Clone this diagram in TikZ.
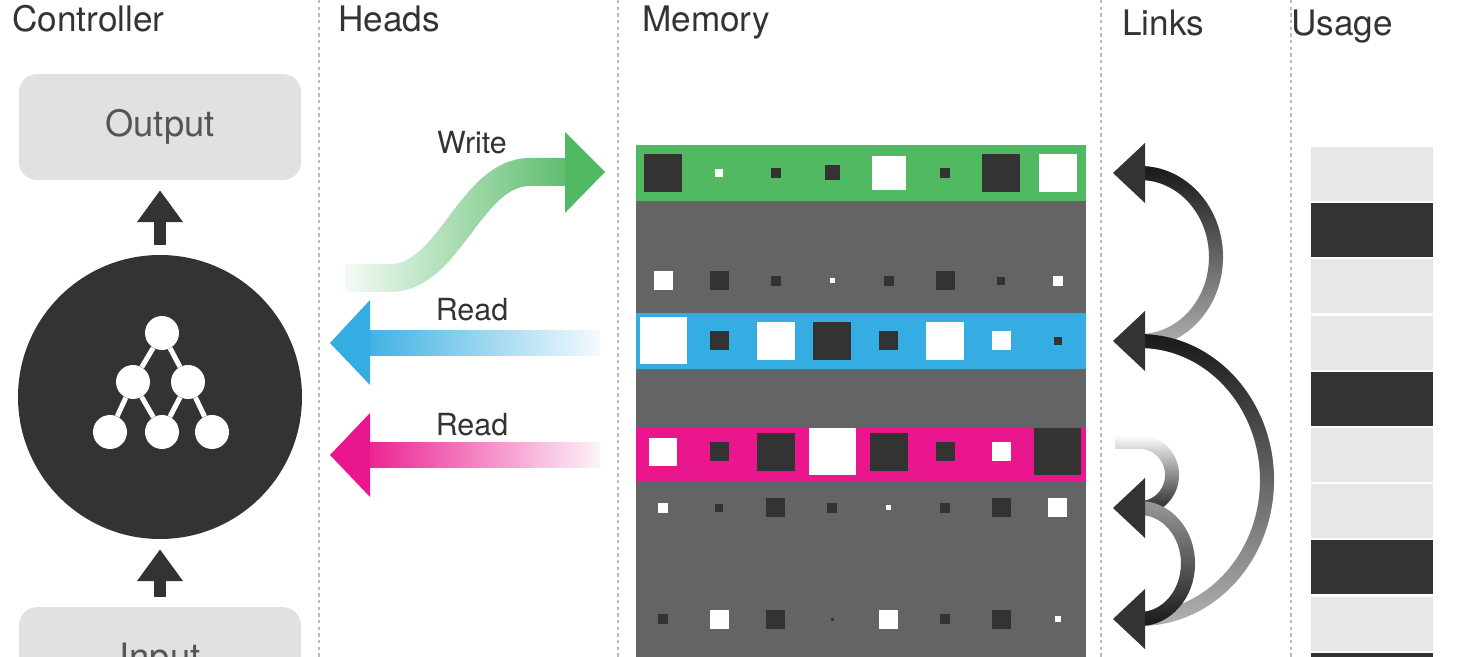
\documentclass[tikz,border=0pt]{standalone}
\usepackage{fontspec}
\setmainfont{TeX Gyre Heros}
\usetikzlibrary{arrows.meta,fadings}
\definecolor{dk}{HTML}{333333}
\definecolor{mem}{HTML}{636466}
\definecolor{lg}{HTML}{E6E7E8}
\definecolor{box}{HTML}{E1E1E3}
\definecolor{gr}{HTML}{52B963}
\definecolor{bl}{HTML}{35ADE2}
\definecolor{pk}{HTML}{EA168D}
\definecolor{sepc}{HTML}{BBBBBB}
\definecolor{txt}{HTML}{555555}
\begin{document}
\begin{tikzpicture}[x=0.3mm,y=-0.3mm,
  title/.style={anchor=base west,font=\fontsize{30}{34}\selectfont,text=dk,inner sep=0},
  lab/.style={anchor=base,font=\fontsize{26}{30}\selectfont,text=dk,inner sep=0},
  sepline/.style={sepc,line width=0.5mm,dash pattern=on 1mm off 1mm},
  cbox/.style={fill=box,rounded corners=5.4mm,minimum width=84.6mm,minimum height=31.8mm,font=\fontsize{31}{34}\selectfont,text=txt},
  nn/.style={circle,fill=white,minimum size=10.2mm,inner sep=0},
  up/.style={dk,line width=3.6mm,-{Triangle[length=9.6mm,width=13.2mm]},shorten <=3mm,shorten >=3mm},
  link/.style={line width=4.2mm}]
\useasboundingbox (0,0) rectangle (1460,657);
\clip (0,0) rectangle (1460,657);
% separators
\foreach \x in {319,618,1101,1291} \draw[sepline] (\x,0) -- (\x,657);
% titles
\node[title] (t1) at (12,32) {Controller};
\node[title] (t2) at (338,32) {Heads};
\node[title] (t3) at (642,32) {Memory};
\node[title] (t4) at (1122,36) {Links};
\node[title] (t5) at (1291,36) {Usage};
% controller
\node[cbox] (out) at (160,127) {Output};
\node[cbox,anchor=north] (in) at (160,607) {Input};
\node[circle,fill=dk,minimum size=85.2mm,inner sep=0] (ctrl) at (160,397) {};
\draw[up] (ctrl.north) -- (out.south);
\draw[up] (in.north) -- (ctrl.south);
\node[nn] (n1) at (162,333) {};
\node[nn] (n2) at (133,382) {};
\node[nn] (n3) at (188,382) {};
\node[nn] (n4) at (110,432) {};
\node[nn] (n5) at (162,432) {};
\node[nn] (n6) at (212,432) {};
\draw[white,line width=1.5mm] (n1)--(n2) (n1)--(n3) (n2)--(n4) (n2)--(n5) (n3)--(n5) (n3)--(n6);
% memory
\fill[mem] (636,145) rectangle (1086,657);
\fill[gr] (636,145) rectangle (1086,201);
\fill[bl] (636,313) rectangle (1086,369);
\fill[pk] (636,427) rectangle (1086,482);
\newcommand\sqrow[2]{%
 \foreach \s/\c [count=\i] in {#2}{
   \fill[\c] ({663+(\i-1)*56.4-\s/2},{#1-\s/2}) rectangle ++(\s,\s);}}
\sqrow{173}{38/dk,8/white,10/dk,15/dk,34/white,10/dk,38/dk,38/white}
\sqrow{281}{19/white,19/dk,10/dk,5/white,10/dk,19/dk,8/dk,10/white}
\sqrow{341}{47/white,19/dk,38/white,38/dk,19/dk,38/white,19/white,8/dk}
\sqrow{452}{28/white,19/dk,38/dk,47/white,38/dk,19/dk,19/white,47/dk}
\sqrow{508}{10/white,8/dk,19/dk,10/dk,5/white,10/dk,19/dk,19/white}
\sqrow{619}{10/dk,19/white,19/dk,3/dk,19/white,10/dk,19/dk,6/white}
% heads
\coordinate (ws) at (345,278);
\coordinate (we) at (568,172);
\draw[gr,line width=8.4mm,path fading=west] (ws) -- (390,278) .. controls (450,278) and (470,172) .. (530,172) -- (we);
\fill[gr] (565,132) -- (605,172) -- (565,213) -- cycle;
\node[lab] (wl) at (472,154) {Write};
\coordinate (bs) at (600,343);
\coordinate (be) at (367,343);
\draw[bl,line width=7.8mm,path fading=east] (bs) -- (be);
\fill[bl] (370,300) -- (330,343) -- (370,385) -- cycle;
\node[lab] (rl1) at (472,321) {Read};
\coordinate (ps) at (600,455);
\coordinate (pe) at (367,455);
\draw[pk,line width=7.8mm,path fading=east] (ps) -- (pe);
\fill[pk] (370,413) -- (330,455) -- (370,497) -- cycle;
\node[lab] (rl2) at (472,436) {Read};
% links
\coordinate (a1) at (1140,173);
\coordinate (a2) at (1140,341);
\coordinate (a3) at (1140,508);
\coordinate (a4) at (1140,619);
\draw[link,black!30] (a2) arc[start angle=-90,end angle=90,x radius=76,y radius=-84];
\draw[link,black!90,path fading=south] (a2) arc[start angle=-90,end angle=90,x radius=76,y radius=-84];
\draw[link,black!30] (a4) arc[start angle=-90,end angle=90,x radius=127,y radius=-139];
\draw[link,black!90,path fading=south] (a4) arc[start angle=-90,end angle=90,x radius=127,y radius=-139];
\draw[link,black!90,path fading=north] (1115,442) -- (1140,442) arc[start angle=90,end angle=-90,x radius=32,y radius=-33];
\draw[link,black!40] (a3) arc[start angle=90,end angle=-90,x radius=48,y radius=-55.5];
\draw[link,black!90,path fading=north] (a3) arc[start angle=90,end angle=-90,x radius=48,y radius=-55.5];
\foreach \y in {173,341,508,619}
  \fill[dk] (1145,{\y-30}) -- (1113,\y) -- (1145,{\y+30}) -- cycle;
% usage
\foreach \c [count=\i from 0] in {lg,dk,lg,lg,dk,lg,lg,dk,lg,dk}
  \fill[\c] (1311,{147+\i*56.2}) rectangle (1433,{147+\i*56.2+54});
\end{tikzpicture}
\end{document}
